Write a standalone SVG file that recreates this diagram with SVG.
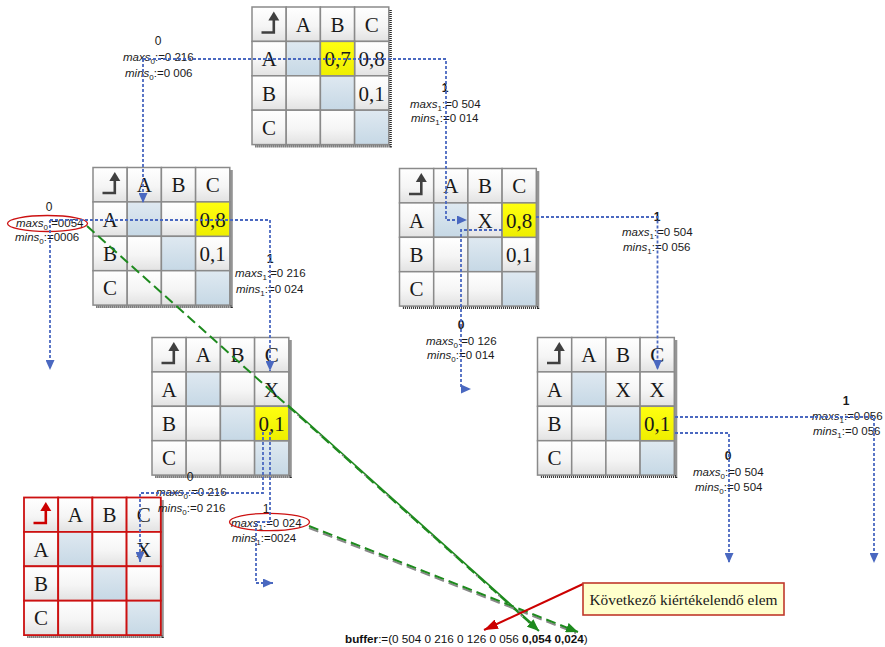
<svg xmlns="http://www.w3.org/2000/svg" xmlns:xlink="http://www.w3.org/1999/xlink" width="885" height="647" viewBox="0 0 885 647">
<style>
.ct{font-family:"Liberation Serif",serif;font-size:21px;text-anchor:middle;fill:#1a1a1a;stroke:none}
.lb{font-family:"Liberation Sans",Arial,sans-serif;font-size:11.5px;fill:#1a1a1a}
.it{font-style:italic}
.sub{font-size:8px}
.lv{font-family:"Liberation Sans",Arial,sans-serif;font-size:12px;text-anchor:middle;fill:#1a1a1a}
.blue{fill:none;stroke:#4a68c0;stroke-width:1.8;stroke-dasharray:3 2;marker-end:url(#ab)}
.shadow{fill:none;stroke:#2a2a2a;stroke-width:3;stroke-dasharray:1 1}
.ycell{fill:url(#gY);stroke:#8a8a8a;stroke-width:1.5}
</style>
<defs>
<linearGradient id="gW" x1="0" y1="0" x2="0" y2="1"><stop offset="0" stop-color="#ffffff"/><stop offset="0.55" stop-color="#f5f5f5"/><stop offset="1" stop-color="#e2e2e2"/></linearGradient>
<linearGradient id="gB" x1="0" y1="0" x2="0" y2="1"><stop offset="0" stop-color="#dfe9f1"/><stop offset="1" stop-color="#c6d8e5"/></linearGradient>
<linearGradient id="gY" x1="0" y1="0" x2="0" y2="1"><stop offset="0" stop-color="#ffff10"/><stop offset="1" stop-color="#eeee00"/></linearGradient>
<marker id="ab" markerUnits="userSpaceOnUse" markerWidth="10" markerHeight="9" refX="10" refY="4.5" orient="auto"><path d="M0,0 L10,4.5 L0,9 z" fill="#4a68c0"/></marker>
<marker id="ag" markerUnits="userSpaceOnUse" markerWidth="12" markerHeight="10" refX="12" refY="5" orient="auto"><path d="M0,0 L12,5 L0,10 z" fill="#1e8a1e"/></marker>
<marker id="ar" markerUnits="userSpaceOnUse" markerWidth="14" markerHeight="10" refX="14" refY="5" orient="auto"><path d="M0,0 L14,5 L0,10 z" fill="#cc0000"/></marker>
<g id="base">
<rect x="0" y="0" width="34.2" height="34.4" fill="url(#gW)"/>
<rect x="34.2" y="0" width="34.2" height="34.4" fill="url(#gW)"/>
<rect x="68.4" y="0" width="34.2" height="34.4" fill="url(#gW)"/>
<rect x="102.6" y="0" width="34.2" height="34.4" fill="url(#gW)"/>
<rect x="0" y="34.4" width="34.2" height="34.4" fill="url(#gW)"/>
<rect x="34.2" y="34.4" width="34.2" height="34.4" fill="url(#gB)"/>
<rect x="68.4" y="34.4" width="34.2" height="34.4" fill="url(#gW)"/>
<rect x="102.6" y="34.4" width="34.2" height="34.4" fill="url(#gW)"/>
<rect x="0" y="68.8" width="34.2" height="34.4" fill="url(#gW)"/>
<rect x="34.2" y="68.8" width="34.2" height="34.4" fill="url(#gW)"/>
<rect x="68.4" y="68.8" width="34.2" height="34.4" fill="url(#gB)"/>
<rect x="102.6" y="68.8" width="34.2" height="34.4" fill="url(#gW)"/>
<rect x="0" y="103.2" width="34.2" height="34.4" fill="url(#gW)"/>
<rect x="34.2" y="103.2" width="34.2" height="34.4" fill="url(#gW)"/>
<rect x="68.4" y="103.2" width="34.2" height="34.4" fill="url(#gW)"/>
<rect x="102.6" y="103.2" width="34.2" height="34.4" fill="url(#gB)"/>
<path d="M21.8,13 V25.5 H9.5" fill="none" stroke="currentColor" stroke-width="2.6"/>
<path d="M21.8,4.5 L16.3,13.5 L27.3,13.5 z" fill="currentColor" stroke="none"/>
<text class="ct" x="51.3" y="24.7" font-family="Liberation Serif" font-size="21" text-anchor="middle" stroke="none">A</text>
<text class="ct" x="85.5" y="24.7" font-family="Liberation Serif" font-size="21" text-anchor="middle" stroke="none">B</text>
<text class="ct" x="119.7" y="24.7" font-family="Liberation Serif" font-size="21" text-anchor="middle" stroke="none">C</text>
<text class="ct" x="17.1" y="59.1" font-family="Liberation Serif" font-size="21" text-anchor="middle" stroke="none">A</text>
<text class="ct" x="17.1" y="93.5" font-family="Liberation Serif" font-size="21" text-anchor="middle" stroke="none">B</text>
<text class="ct" x="17.1" y="127.9" font-family="Liberation Serif" font-size="21" text-anchor="middle" stroke="none">C</text>
</g>
</defs>
<rect x="0" y="0" width="885" height="647" fill="#ffffff"/>

<g id="m0" transform="translate(252,7)">
<path class="shadow" d="M138.3,3 V139.1 H3"/>
<use xlink:href="#base" href="#base" stroke="#8a8a8a" stroke-width="1.5" color="#404040"/>
<rect class="ycell" x="68.4" y="34.4" width="34.2" height="34.4"/>
<text class="ct" x="85.5" y="59.1">0,7</text>
<text class="ct" x="119.7" y="59.1">0,8</text>
<text class="ct" x="119.7" y="93.5">0,1</text>
</g>

<g id="m1" transform="translate(93,167.5)">
<path class="shadow" d="M138.3,3 V139.1 H3"/>
<use xlink:href="#base" href="#base" stroke="#8a8a8a" stroke-width="1.5" color="#404040"/>
<rect class="ycell" x="102.6" y="34.4" width="34.2" height="34.4"/>
<text class="ct" x="119.7" y="59.1">0,8</text>
<text class="ct" x="119.7" y="93.5">0,1</text>
</g>

<g id="m2" transform="translate(399.5,168.5)">
<path class="shadow" d="M138.3,3 V139.1 H3"/>
<use xlink:href="#base" href="#base" stroke="#8a8a8a" stroke-width="1.5" color="#404040"/>
<rect class="ycell" x="102.6" y="34.4" width="34.2" height="34.4"/>
<text class="ct" x="85.5" y="59.1">X</text>
<text class="ct" x="119.7" y="59.1">0,8</text>
<text class="ct" x="119.7" y="93.5">0,1</text>
</g>

<g id="m3" transform="translate(152,337.5)">
<path class="shadow" d="M138.3,3 V139.1 H3"/>
<use xlink:href="#base" href="#base" stroke="#8a8a8a" stroke-width="1.5" color="#404040"/>
<rect class="ycell" x="102.6" y="68.8" width="34.2" height="34.4"/>
<text class="ct" x="119.7" y="59.1">X</text>
<text class="ct" x="119.7" y="93.5">0,1</text>
</g>

<g id="m4" transform="translate(537.5,337.5)">
<path class="shadow" d="M138.3,3 V139.1 H3"/>
<use xlink:href="#base" href="#base" stroke="#8a8a8a" stroke-width="1.5" color="#404040"/>
<rect class="ycell" x="102.6" y="68.8" width="34.2" height="34.4"/>
<text class="ct" x="85.5" y="59.1">X</text>
<text class="ct" x="119.7" y="59.1">X</text>
<text class="ct" x="119.7" y="93.5">0,1</text>
</g>

<g id="m5" transform="translate(24,497.5)">
<path class="shadow" d="M138.3,3 V139.1 H3"/>
<use xlink:href="#base" href="#base" stroke="#cc1111" stroke-width="1.8" color="#cc0000"/>
<text class="ct" x="119.7" y="59.1">X</text>
</g>

<g id="labels">
<text class="lv" x="158" y="45">0</text>
<text class="lb" x="123" y="61"><tspan class="it">maxs</tspan><tspan class="sub" dy="3">0</tspan><tspan dy="-3">:=0 216</tspan></text>
<text class="lb" x="125" y="77"><tspan class="it">mins</tspan><tspan class="sub" dy="3">0</tspan><tspan dy="-3">:=0 006</tspan></text>

<text class="lv" x="445" y="92" font-weight="bold">1</text>
<text class="lb" x="410" y="108"><tspan class="it">maxs</tspan><tspan class="sub" dy="3">1</tspan><tspan dy="-3">:=0 504</tspan></text>
<text class="lb" x="411" y="122"><tspan class="it">mins</tspan><tspan class="sub" dy="3">1</tspan><tspan dy="-3">:=0 014</tspan></text>

<text class="lv" x="49" y="211">0</text>
<text class="lb" x="16" y="227"><tspan class="it">maxs</tspan><tspan class="sub" dy="3">0</tspan><tspan dy="-3">:=0054</tspan></text>
<text class="lb" x="15" y="241"><tspan class="it">mins</tspan><tspan class="sub" dy="3">0</tspan><tspan dy="-3">:=0006</tspan></text>

<text class="lv" x="270" y="263" font-weight="bold">1</text>
<text class="lb" x="235" y="277"><tspan class="it">maxs</tspan><tspan class="sub" dy="3">1</tspan><tspan dy="-3">:=0 216</tspan></text>
<text class="lb" x="236" y="293"><tspan class="it">mins</tspan><tspan class="sub" dy="3">1</tspan><tspan dy="-3">:=0 024</tspan></text>

<text class="lv" x="657" y="221" font-weight="bold">1</text>
<text class="lb" x="622" y="236"><tspan class="it">maxs</tspan><tspan class="sub" dy="3">1</tspan><tspan dy="-3">:=0 504</tspan></text>
<text class="lb" x="623" y="251"><tspan class="it">mins</tspan><tspan class="sub" dy="3">1</tspan><tspan dy="-3">:=0 056</tspan></text>

<text class="lv" x="461" y="329" font-weight="bold">0</text>
<text class="lb" x="426" y="345"><tspan class="it">maxs</tspan><tspan class="sub" dy="3">0</tspan><tspan dy="-3">:=0 126</tspan></text>
<text class="lb" x="427" y="359"><tspan class="it">mins</tspan><tspan class="sub" dy="3">0</tspan><tspan dy="-3">:=0 014</tspan></text>

<text class="lv" x="190" y="481">0</text>
<text class="lb" x="156" y="496"><tspan class="it">maxs</tspan><tspan class="sub" dy="3">0</tspan><tspan dy="-3">:=0 216</tspan></text>
<text class="lb" x="158" y="512"><tspan class="it">mins</tspan><tspan class="sub" dy="3">0</tspan><tspan dy="-3">:=0 216</tspan></text>

<text class="lv" x="266" y="513">1</text>
<text class="lb" x="231" y="527"><tspan class="it">maxs</tspan><tspan class="sub" dy="3">1</tspan><tspan dy="-3">:=0 024</tspan></text>
<text class="lb" x="232" y="542"><tspan class="it">mins</tspan><tspan class="sub" dy="3">1</tspan><tspan dy="-3">:=0024</tspan></text>

<text class="lv" x="846" y="405" font-weight="bold">1</text>
<text class="lb" x="812" y="420"><tspan class="it">maxs</tspan><tspan class="sub" dy="3">1</tspan><tspan dy="-3">:=0 056</tspan></text>
<text class="lb" x="813" y="435"><tspan class="it">mins</tspan><tspan class="sub" dy="3">1</tspan><tspan dy="-3">:=0 056</tspan></text>

<text class="lv" x="728" y="460" font-weight="bold">0</text>
<text class="lb" x="693" y="476"><tspan class="it">maxs</tspan><tspan class="sub" dy="3">0</tspan><tspan dy="-3">:=0 504</tspan></text>
<text class="lb" x="695" y="491"><tspan class="it">mins</tspan><tspan class="sub" dy="3">0</tspan><tspan dy="-3">:=0 504</tspan></text>

<ellipse cx="47.5" cy="223.5" rx="40" ry="8" fill="none" stroke="#cc1111" stroke-width="1.3"/>
<ellipse cx="269.5" cy="522" rx="40" ry="8.7" fill="none" stroke="#cc1111" stroke-width="1.3"/>
</g>

<g id="connectors">
<path class="blue" d="M143,59 H446 V220 H467"/>
<path class="blue" d="M143,59 V203"/>
<path class="blue" d="M50,220 H270 V371"/>
<path class="blue" d="M50,220 V370"/>
<path class="blue" d="M536,217 H657.5 V370"/>
<path class="blue" d="M502,230 H461 V389 H471"/>
<path class="blue" d="M263,432 V493 H140 V562"/>
<path class="blue" d="M270,432 V522 H256 V583 H273"/>
<path class="blue" d="M675,417 H874 V563"/>
<path class="blue" d="M675,433 H729 V563"/>

<path d="M288,405 L537,628" fill="none" stroke="#1e8a1e" stroke-width="1.6"/>
<path d="M290,408 L535,628" fill="none" stroke="#777" stroke-width="1.4" stroke-dasharray="2 8"/>
<path d="M87,226 L539,631" fill="none" stroke="#1e8a1e" stroke-width="2" stroke-dasharray="10 5" marker-end="url(#ag)"/>
<path d="M309,528 L576,633" fill="none" stroke="#888" stroke-width="2" stroke-dasharray="10 5"/>
<path d="M309,526 L578,632" fill="none" stroke="#1e8a1e" stroke-width="2" stroke-dasharray="10 5" marker-end="url(#ag)"/>
<path d="M583,584 L484,630" fill="none" stroke="#cc0000" stroke-width="2" marker-end="url(#ar)"/>
</g>

<g id="callout">
<rect x="583" y="583" width="201" height="32" fill="#ffffcc" stroke="#c0392b" stroke-width="1.6"/>
<text x="683.5" y="604.5" font-family="Liberation Serif, serif" font-size="15" text-anchor="middle" fill="#1a1a1a" textLength="188" lengthAdjust="spacingAndGlyphs">Következő kiértékelendő elem</text>
</g>

<g id="buffer">
<text x="345" y="643" font-family="Liberation Sans, Arial, sans-serif" font-size="11.7" fill="#111"><tspan font-weight="bold">buffer</tspan>:=(0 504 0 216 0 126 0 056 <tspan font-weight="bold">0,054 0,024</tspan>)</text>
</g>
</svg>
